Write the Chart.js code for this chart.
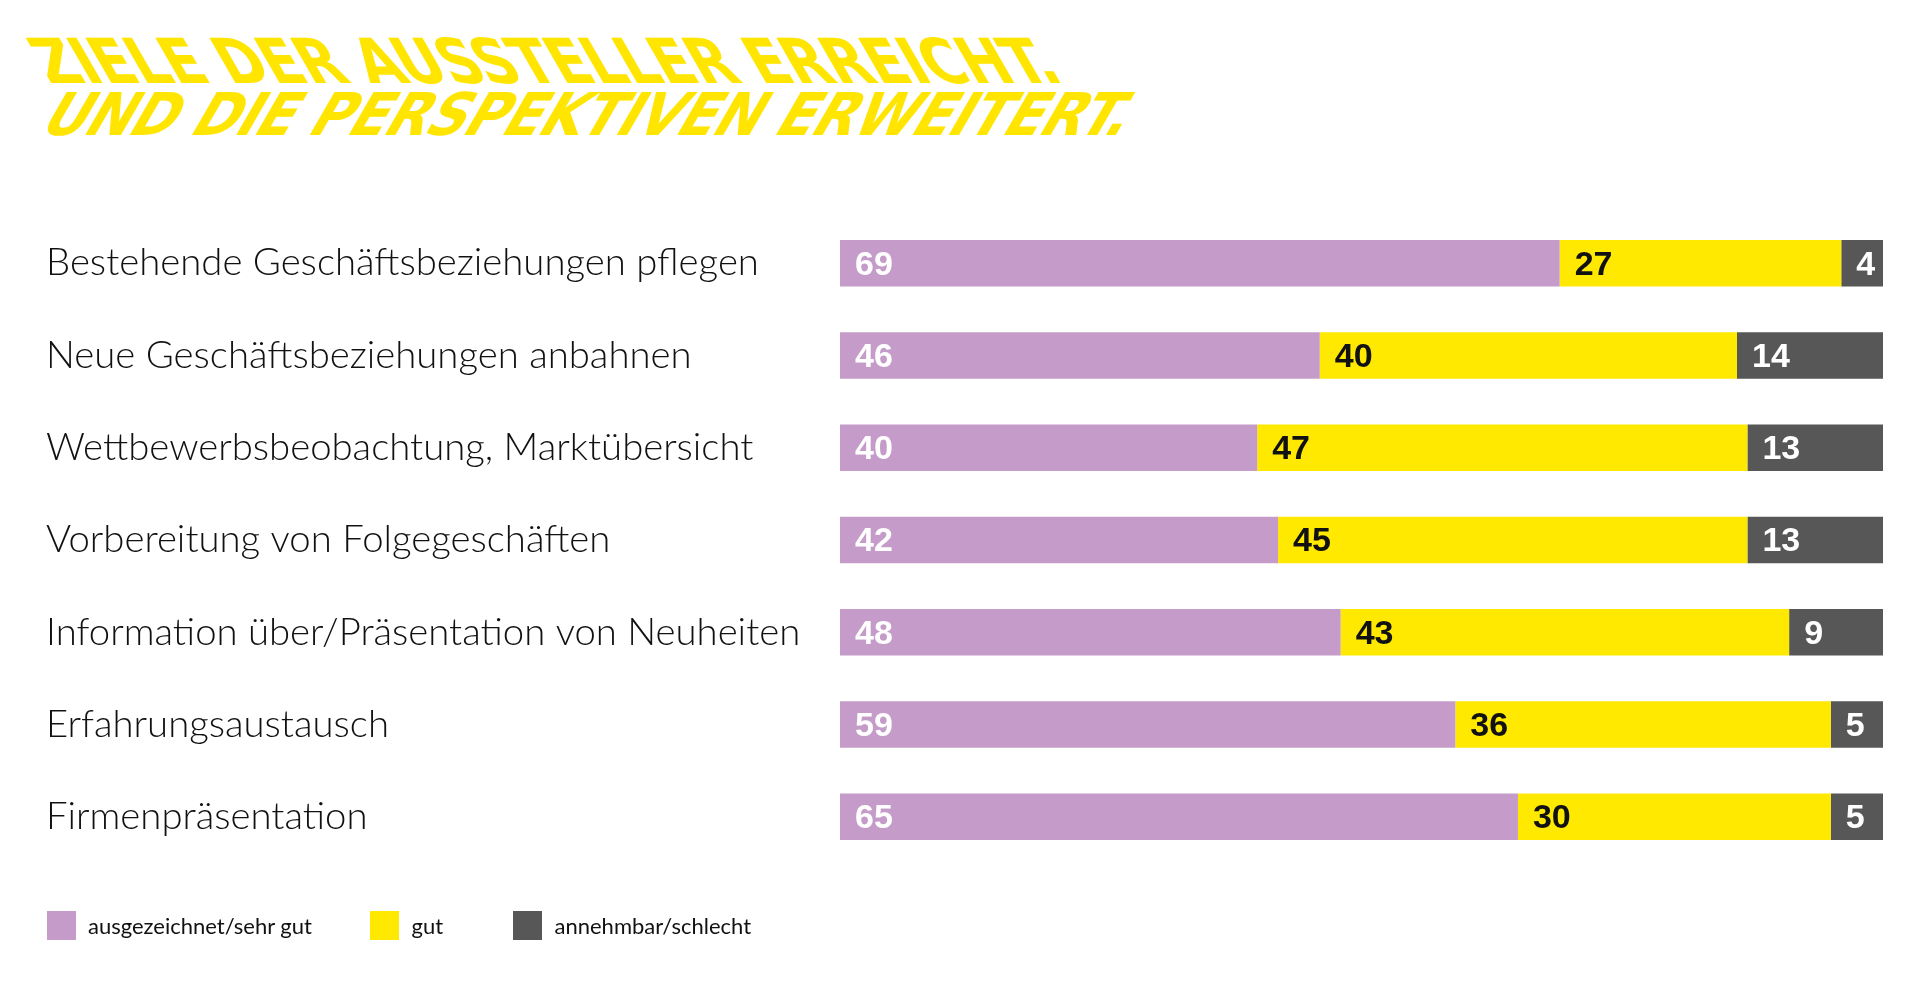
<!DOCTYPE html>
<html>
<head>
<meta charset="utf-8">
<script src="https://cdn.jsdelivr.net/npm/chart.js@4.4.1/dist/chart.umd.min.js"></script>
<style>
  html, body { margin: 0; padding: 0; background: #ffffff; width: 1920px; height: 1000px; overflow: hidden; }
  #wrap { position: relative; width: 1920px; height: 1000px; }
  #c { position: absolute; left: 0; top: 0; }
  .t { position: absolute; color: #FFE500; font-family: "Liberation Sans Narrow", "DejaVu Sans Condensed", "Liberation Sans", sans-serif;
       font-weight: 700; white-space: nowrap; line-height: 1; letter-spacing: -1px; }
  #t1 { font-size: 62px; left: 49px; top: 31px; transform-origin: 0 52.5px; }
  #t2 { font-size: 59px; left: 36.5px; top: 85px; transform-origin: 0 50px; }
  .lg { position: absolute; top: 911px; height: 29px; display: flex; align-items: center; }
  .lg .sw { width: 29px; height: 29px; margin-right: 12.5px; }
  .lg .tx { font-family: "Lato", "Open Sans", sans-serif; font-weight: 400; color: #111; font-size: 22px; white-space: nowrap; }
</style>
</head>
<body>
<div id="wrap">
  <div class="t" id="t1">ZIELE DER AUSSTELLER ERREICHT.</div>
  <div class="t" id="t2">UND DIE PERSPEKTIVEN ERWEITERT.</div>
  <canvas id="c" width="1920" height="1000"></canvas>
  <div id="legend"></div>
</div>
<script>
// ---- data ----
const categories = [
  "Bestehende Geschäftsbeziehungen pflegen",
  "Neue Geschäftsbeziehungen anbahnen",
  "Wettbewerbsbeobachtung, Marktübersicht",
  "Vorbereitung von Folgegeschäften",
  "Information über/Präsentation von Neuheiten",
  "Erfahrungsaustausch",
  "Firmenpräsentation"
];
const seriesNames = ["ausgezeichnet/sehr gut", "gut", "annehmbar/schlecht"];
const sehrGut   = [69, 46, 40, 42, 48, 59, 65];
const gut       = [27, 40, 47, 45, 43, 36, 30];
const schlecht  = [4, 14, 13, 13, 9, 5, 5];

// ---- styles ----
const barColors   = ["#C59CC9", "#FFE900", "#575757"];
const labelColors = ["#FFFFFF", "#111111", "#FFFFFF"];
const legendLeft  = [46.5, 370, 513];

// title: fit widths & skew
function fitTitle(id, targetW, skew) {
  const el = document.getElementById(id);
  const w = el.scrollWidth;
  const k = targetW / w;
  el.style.transform = "skewX(" + skew + "deg) scaleX(" + k + ")";
}
fitTitle("t1", 1016, 30);
fitTitle("t2", 1083, -30);

// category label font fitted to reference width
const mctx = document.createElement("canvas").getContext("2d");
const labelFamily = '"Lato", "Open Sans", sans-serif';
mctx.font = "300 100px " + labelFamily;
const longest = mctx.measureText("Information über/Präsentation von Neuheiten").width;
const labelSize = Math.round(100 * 755 / longest * 10) / 10;

// legend
const legend = document.getElementById("legend");
seriesNames.forEach((n, i) => {
  const d = document.createElement("div");
  d.className = "lg";
  d.style.left = legendLeft[i] + "px";
  d.innerHTML = '<div class="sw" style="background:' + barColors[i] + '"></div><div class="tx">' + n + '</div>';
  legend.appendChild(d);
});

const segLabels = {
  id: "segLabels",
  afterDatasetsDraw(chart) {
    const ctx = chart.ctx;
    chart.data.datasets.forEach((ds, i) => {
      const meta = chart.getDatasetMeta(i);
      meta.data.forEach((bar, j) => {
        const left = Math.min(bar.x, bar.base);
        ctx.save();
        ctx.font = 'bold 34px "Liberation Sans", Arial, sans-serif';
        ctx.fillStyle = labelColors[i];
        ctx.textAlign = "left";
        ctx.textBaseline = "middle";
        ctx.fillText(String(ds.data[j]), left + 15, bar.y + 2);
        ctx.restore();
      });
    });
  }
};

new Chart(document.getElementById("c"), {
  type: "bar",
  data: {
    labels: categories,
    datasets: [
      { label: seriesNames[0], data: sehrGut,  backgroundColor: barColors[0] },
      { label: seriesNames[1], data: gut,      backgroundColor: barColors[1] },
      { label: seriesNames[2], data: schlecht, backgroundColor: barColors[2] }
    ]
  },
  options: {
    indexAxis: "y",
    responsive: false,
    animation: false,
    devicePixelRatio: 1,
    layout: { padding: { left: 46, right: 37, top: 217, bottom: 137 } },
    datasets: { bar: { categoryPercentage: 1, barPercentage: 0.504, borderWidth: 0 } },
    plugins: { legend: { display: false }, tooltip: { enabled: false }, title: { display: false } },
    scales: {
      x: { stacked: true, min: 0, max: 100, display: false },
      y: {
        stacked: true,
        grid: { display: false },
        border: { display: false },
        ticks: {
          crossAlign: "far",
          padding: 0,
          color: "#111111",
          font: { family: labelFamily, size: labelSize, weight: "300" }
        },
        afterFit(scale) { scale.width = 794; }
      }
    }
  },
  plugins: [segLabels]
});
</script>
</body>
</html>
